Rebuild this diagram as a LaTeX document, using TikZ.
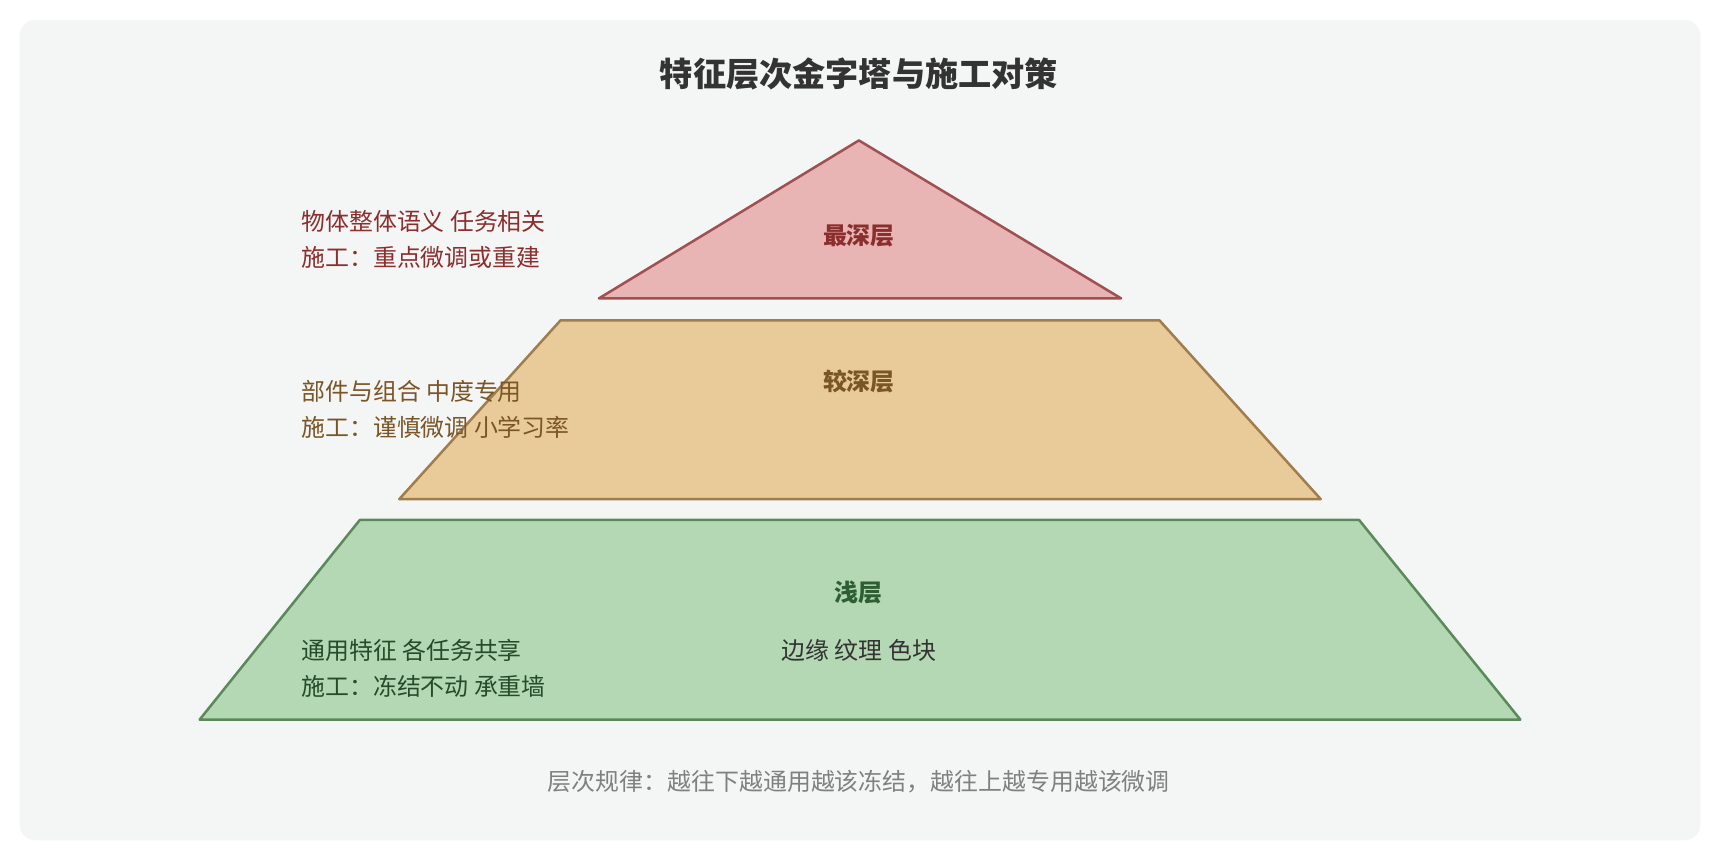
\documentclass[tikz,border=0pt]{standalone}
\usepackage{fontspec}
\setmainfont{Noto Sans CJK SC}
\usetikzlibrary{positioning}
\definecolor{bgc}{HTML}{F4F6F5}
\definecolor{redf}{HTML}{E8B4B4}
\definecolor{redd}{HTML}{A05050}
\definecolor{redt}{HTML}{8B2E2E}
\definecolor{ochf}{HTML}{E8CB98}
\definecolor{ochd}{HTML}{A07D4B}
\definecolor{ocht}{HTML}{7A5526}
\definecolor{grnf}{HTML}{B3D8B3}
\definecolor{grnd}{HTML}{5A8A5A}
\definecolor{grnt}{HTML}{2E5E34}
\tikzset{
  layer/.style={line width=0.65pt, line join=round},
  lname/.style={font=\fontsize{6.2}{7}\selectfont\bfseries},
  note/.style={font=\fontsize{6.2}{9.4}\selectfont, align=left, anchor=west, inner sep=0pt}
}
\begin{document}
\begin{tikzpicture}[x=0.01cm,y=-0.01cm]
\useasboundingbox (0,0) rectangle (1568,784);
\fill[bgc, rounded corners=4pt] (18,18) rectangle (1550,766);
\node (title) at (783,67) {\fontsize{8.6}{10}\selectfont\bfseries\color[HTML]{333333}特征层次金字塔与施工对策};
% layers
\draw[layer, fill=redf, draw=redd] (783,128) -- (1022,272) -- (546,272) -- cycle;
\draw[layer, fill=ochf, draw=ochd] (511,292) -- (1057,292) -- (1204,455) -- (364,455) -- cycle;
\draw[layer, fill=grnf, draw=grnd] (328,474) -- (1239,474) -- (1386,656) -- (182,656) -- cycle;
\node[lname, text=redt] (deep) at (783,215) {最深层};
\node[lname, text=ocht] (mid) at (783,348) {较深层};
\node[lname, text=grnt] (shal) at (783,540) {浅层};
% notes
\node[note, text=redt] (ndeep) at (274,218) {物体整体语义 任务相关\\施工：重点微调或重建};
\node[note, text=ocht] (nmid) at (274,373) {部件与组合 中度专用\\施工：谨慎微调 小学习率};
\node[note, text=grnt!80!black] (nshal) at (274,609) {通用特征 各任务共享\\施工：冻结不动 承重墙};
\node[note, text=black!80] (ex) at (712,593) {边缘 纹理 色块};
\node[font=\fontsize{6.2}{7}\selectfont, text=black!50] (foot) at (783,713) {层次规律：越往下越通用越该冻结，越往上越专用越该微调};
\end{tikzpicture}
\end{document}
